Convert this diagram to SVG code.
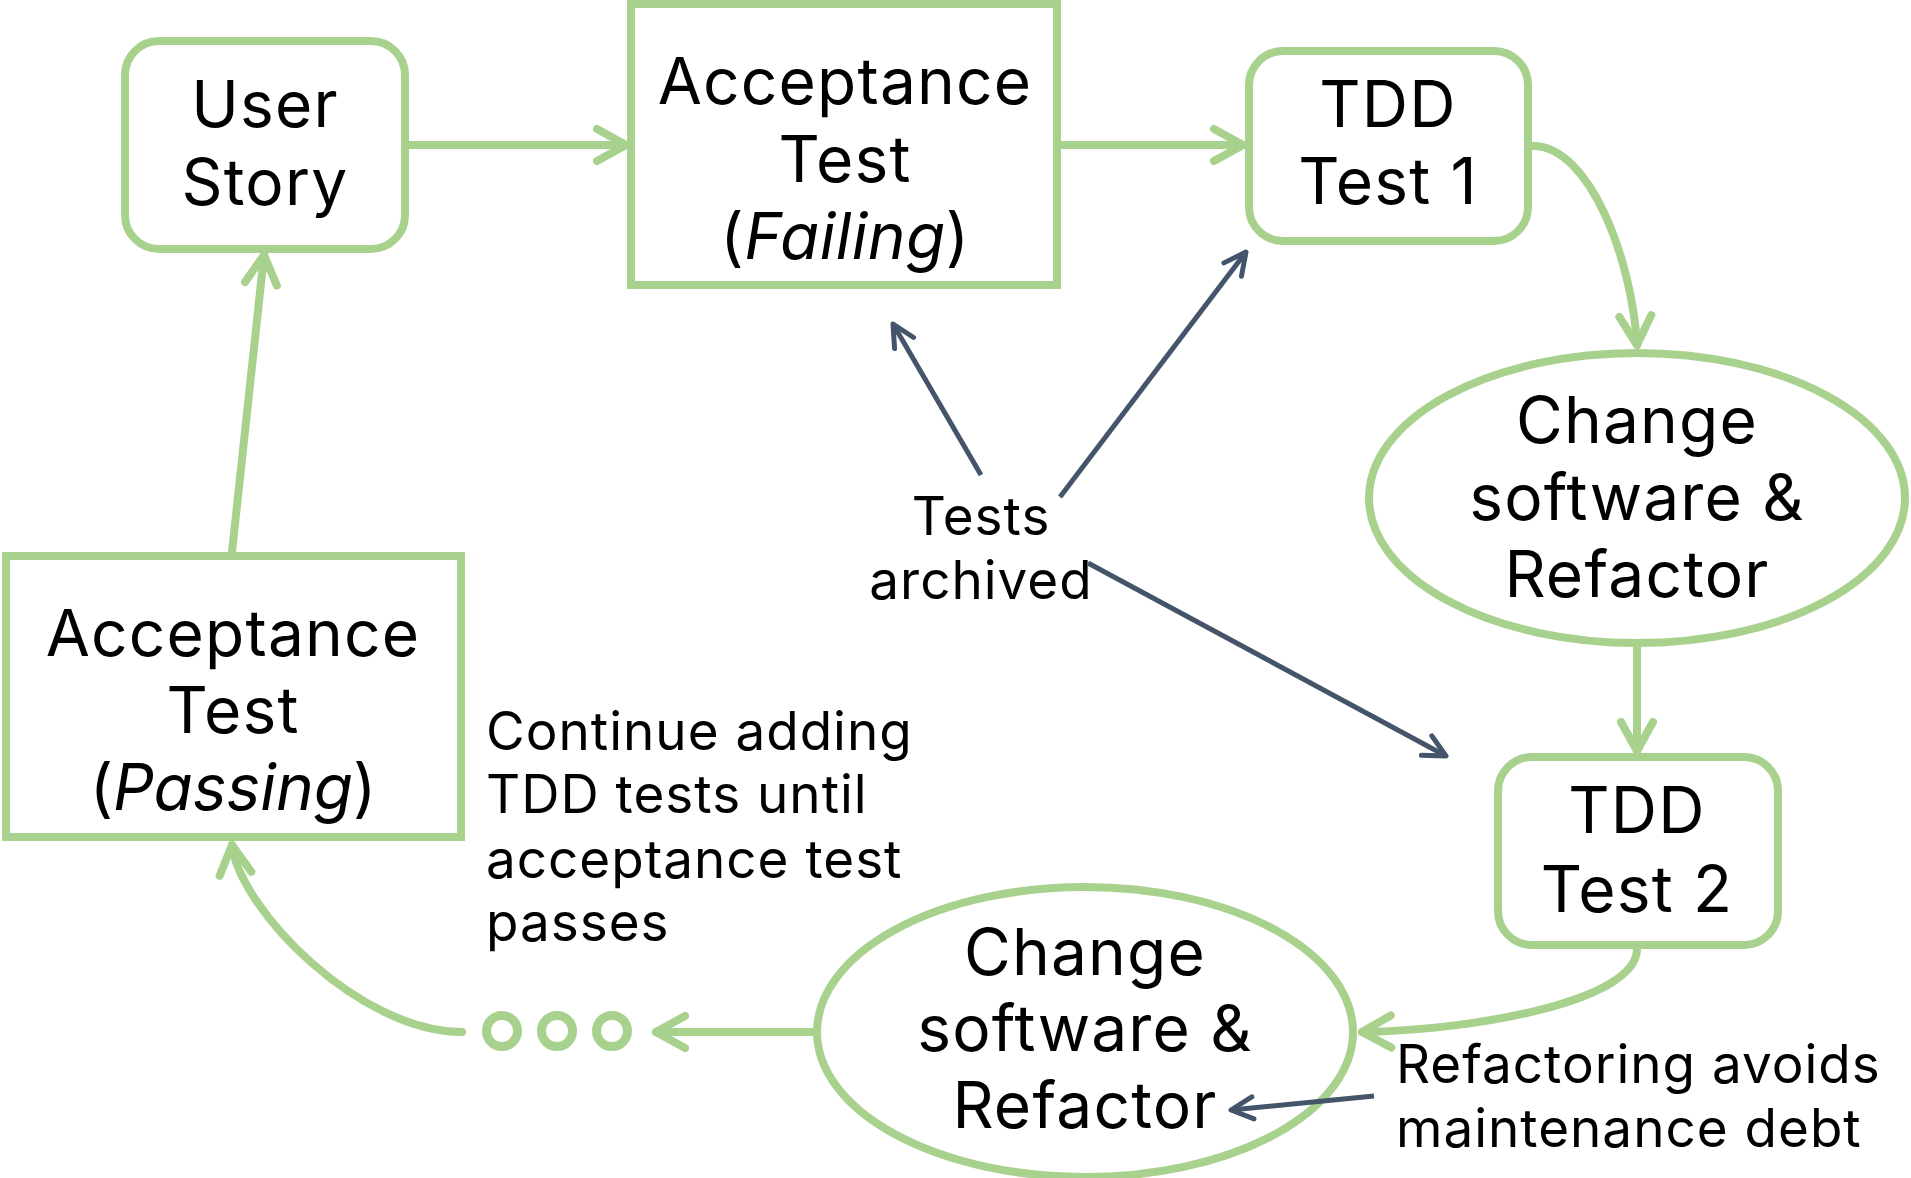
<svg xmlns="http://www.w3.org/2000/svg" width="1911" height="1178" viewBox="0 0 1911 1178">
<defs>
<style>
.box{fill:#fff;stroke:#a9d18e;stroke-width:8}
.g{fill:none;stroke:#a9d18e;stroke-width:8;stroke-linecap:round}
.dot{fill:none;stroke:#a9d18e;stroke-width:9}
.d{fill:none;stroke:#44546a;stroke-width:5}
.t{font-family:Inter,"Liberation Sans",sans-serif;font-size:64px;fill:#000;text-anchor:middle;letter-spacing:1.2px}
.s{font-size:53px;letter-spacing:1px}
.a{font-family:Inter,"Liberation Sans",sans-serif;font-size:53px;fill:#000;letter-spacing:1px}
</style>
<marker id="ag" markerUnits="userSpaceOnUse" orient="auto" markerWidth="60" markerHeight="60" refX="0" refY="0" viewBox="-40 -30 50 60" overflow="visible">
<path d="M -29 -16 L 0 0 L -29 16" fill="none" stroke="#a9d18e" stroke-width="8" stroke-linecap="round" stroke-linejoin="round"/>
</marker>
<marker id="ad" markerUnits="userSpaceOnUse" orient="auto" markerWidth="60" markerHeight="60" refX="0" refY="0" viewBox="-40 -30 50 60" overflow="visible">
<path d="M -22 -11 L 0 0 L -22 11" fill="none" stroke="#44546a" stroke-width="5" stroke-linecap="round" stroke-linejoin="round"/>
</marker>
</defs>
<rect width="1911" height="1178" fill="#fff"/>
<g id="user-story">
<rect class="box" x="125" y="41" width="280" height="208" rx="34"/>
<text class="t" x="265" y="127">User</text>
<text class="t" x="265" y="205">Story</text>
</g>
<g id="acceptance-failing">
<rect class="box" x="631" y="4" width="426" height="281"/>
<text class="t" x="845" y="104">Acceptance</text>
<text class="t" x="845" y="182">Test</text>
<text class="t" x="845" y="259" style="letter-spacing:0.5px">(<tspan font-style="italic">Failing</tspan>)</text>
</g>
<g id="tdd-test-1">
<rect class="box" x="1249" y="51" width="279" height="190" rx="34"/>
<text class="t" x="1388" y="127">TDD</text>
<text class="t" x="1388" y="204">Test 1</text>
</g>
<g id="change-1">
<ellipse class="box" cx="1637" cy="498" rx="268" ry="145"/>
<text class="t" x="1637" y="443">Change</text>
<text class="t" x="1637" y="520">software &amp;</text>
<text class="t" x="1637" y="597">Refactor</text>
</g>
<g id="tdd-test-2">
<rect class="box" x="1498" y="757" width="280" height="188" rx="34"/>
<text class="t" x="1637" y="833">TDD</text>
<text class="t" x="1637" y="912">Test 2</text>
</g>
<g id="change-2">
<ellipse class="box" cx="1085" cy="1032" rx="268" ry="145"/>
<text class="t" x="1085" y="975">Change</text>
<text class="t" x="1085" y="1051">software &amp;</text>
<text class="t" x="1085" y="1128">Refactor</text>
</g>
<g id="dots">
<circle class="dot" cx="502" cy="1031" r="15.5"/>
<circle class="dot" cx="557" cy="1031" r="15.5"/>
<circle class="dot" cx="612" cy="1031" r="15.5"/>
</g>
<g id="acceptance-passing">
<rect class="box" x="6" y="556" width="455" height="281"/>
<text class="t" x="233" y="656">Acceptance</text>
<text class="t" x="233" y="733">Test</text>
<text class="t" x="233" y="810" style="letter-spacing:0px">(<tspan font-style="italic">Passing</tspan>)</text>
</g>
<g id="tests-archived">
<text class="t s" x="981" y="535">Tests</text>
<text class="t s" x="981" y="599">archived</text>
</g>
<g id="continue-note">
<text class="a" x="486" y="750">Continue adding</text>
<text class="a" x="486" y="813">TDD tests until</text>
<text class="a" x="486" y="878">acceptance test</text>
<text class="a" x="486" y="941">passes</text>
</g>
<g id="refactoring-note">
<text class="a" x="1396" y="1083">Refactoring avoids</text>
<text class="a" x="1396" y="1147">maintenance debt</text>
</g>
<g id="connectors">
<path class="g" d="M 409 145 L 626 145" marker-end="url(#ag)"/>
<path class="g" d="M 1061 145 L 1243 145" marker-end="url(#ag)"/>
<path class="g" d="M 1533 146 C 1590 146, 1632 260, 1637 345" marker-end="url(#ag)"/>
<path class="g" d="M 1637 647 L 1637 751" marker-end="url(#ag)"/>
<path class="g" d="M 1637 949 C 1637 1000, 1480 1030, 1362 1032" marker-end="url(#ag)"/>
<path class="g" d="M 813 1032 L 656 1032" marker-end="url(#ag)"/>
<path class="g" d="M 462 1032 C 360 1032, 240 910, 232 845" marker-end="url(#ag)"/>
<path class="g" d="M 232 552 L 264 255" marker-end="url(#ag)"/>
<path class="d" d="M 981 475 L 893 324" marker-end="url(#ad)"/>
<path class="d" d="M 1060 497 L 1246 252" marker-end="url(#ad)"/>
<path class="d" d="M 1088 563 L 1446 756" marker-end="url(#ad)"/>
<path class="d" d="M 1374 1096 L 1231 1110" marker-end="url(#ad)"/>
</g>
</svg>
